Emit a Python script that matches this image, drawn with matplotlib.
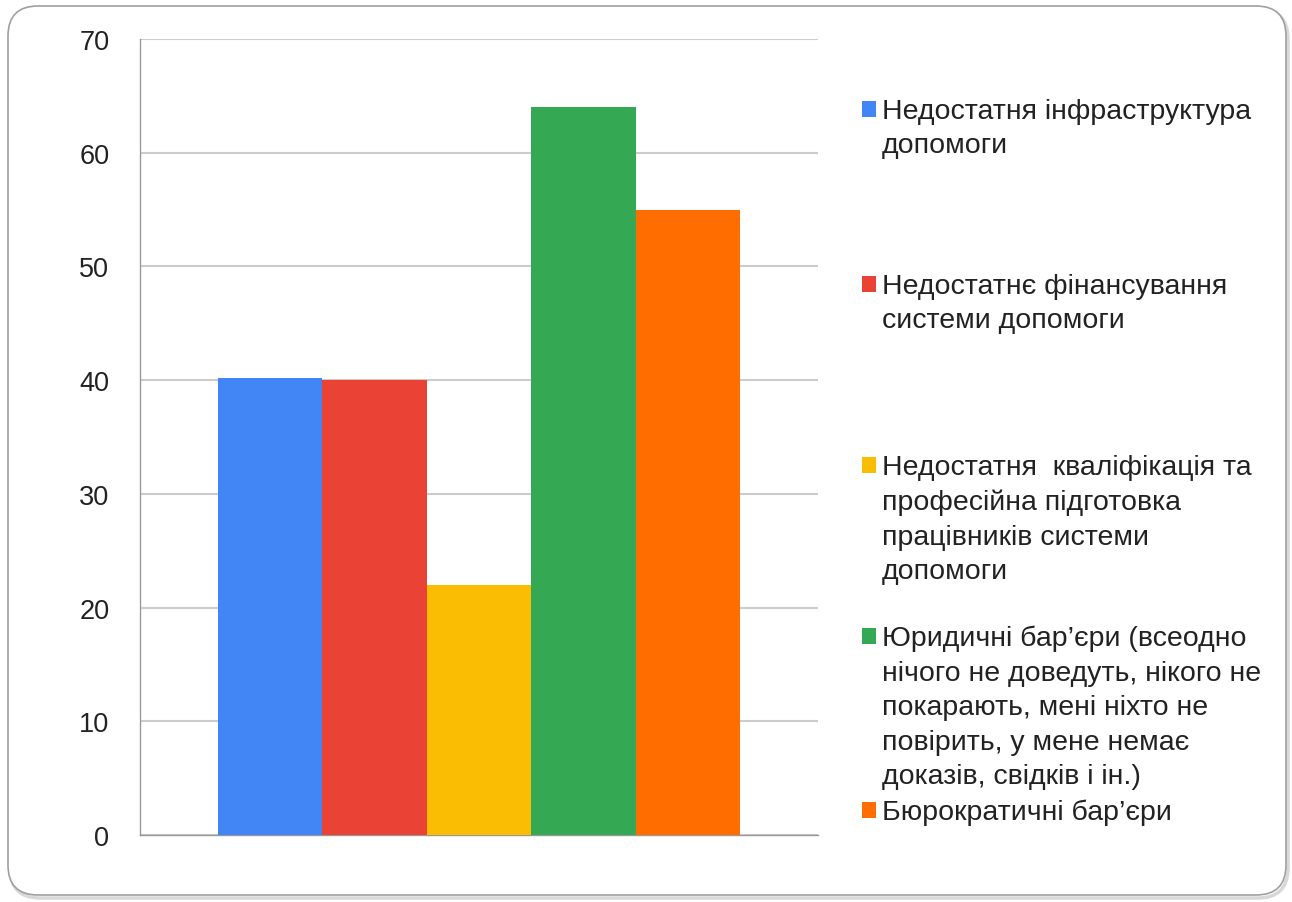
import numpy as np
import matplotlib
matplotlib.use("Agg")
import matplotlib.pyplot as plt
from matplotlib.patches import FancyBboxPatch, Rectangle

plt.rcParams['font.family'] = ['Liberation Sans', 'DejaVu Sans']

# data
labels = [
    "Недостатня інфраструктура\nдопомоги",
    "Недостатнє фінансування\nсистеми допомоги",
    "Недостатня  кваліфікація та\nпрофесійна підготовка\nпрацівників системи\nдопомоги",
    "Юридичні бар’єри (всеодно\nнічого не доведуть, нікого не\nпокарають, мені ніхто не\nповірить, у мене немає\nдоказів, свідків і ін.)",
    "Бюрократичні бар’єри",
]
values = [40.2, 40.0, 22.0, 64.0, 55.0]
colors = ["#4285F4", "#EA4335", "#FBBC04", "#34A853", "#FF6D01"]
yticks = [0, 10, 20, 30, 40, 50, 60, 70]

W, H = 1292, 903
fig = plt.figure(figsize=(W / 100, H / 100), dpi=100)

# rounded frame with a little shadow
asp = W / H
shadow = FancyBboxPatch((10 / W, 4 / H), 1278 / W, 889 / H,
                        boxstyle="round,pad=0,rounding_size=%f" % (30 / W),
                        mutation_aspect=asp, transform=fig.transFigure,
                        facecolor="none", edgecolor="#d8d8d8", linewidth=2.5, zorder=-2)
frame = FancyBboxPatch((8 / W, 7 / H), 1278 / W, 889 / H,
                       boxstyle="round,pad=0,rounding_size=%f" % (30 / W),
                       mutation_aspect=asp, transform=fig.transFigure,
                       facecolor="white", edgecolor="#a0a0a0", linewidth=1.2, zorder=-1)
fig.patches.extend([shadow, frame])

ax = fig.add_axes([140 / W, 1 - 836 / H, 678 / W, 796 / H])
ax.set_zorder(1)
ax.patch.set_alpha(0)

bw = 0.154
x = (np.arange(len(values)) - 2) * bw
ax.bar(x, values, width=bw, color=colors, zorder=3)

ax.set_xlim(-0.5, 0.5)
ax.set_ylim(0, 70)
ax.set_yticks(yticks)
ax.set_xticks([])
ax.tick_params(axis='y', length=0, pad=22, labelsize=19.5, labelcolor="#222222")
ax.grid(axis='y', color="#cccccc", linewidth=1.5, zorder=0)
for s in ["top", "right"]:
    ax.spines[s].set_visible(False)
ax.spines["left"].set_color("#999999")
ax.spines["bottom"].set_color("#999999")
ax.spines["left"].set_linewidth(1)
ax.spines["bottom"].set_linewidth(1)

# legend drawn by hand to match the spread-out layout
baselines = [125, 300, 481, 652, 826]
for lab, c, b in zip(labels, colors, baselines):
    fig.text(882 / W, 1 - (b - 26) / H, lab, fontsize=20.5, color="#222222",
             va="top", ha="left", linespacing=1.42, zorder=2)
    fig.patches.append(Rectangle((862 / W, 1 - (b - 7) / H), 14 / W, 16 / H,
                                 transform=fig.transFigure, facecolor=c,
                                 edgecolor="none", zorder=2))

fig.savefig("out.png", dpi=100)
